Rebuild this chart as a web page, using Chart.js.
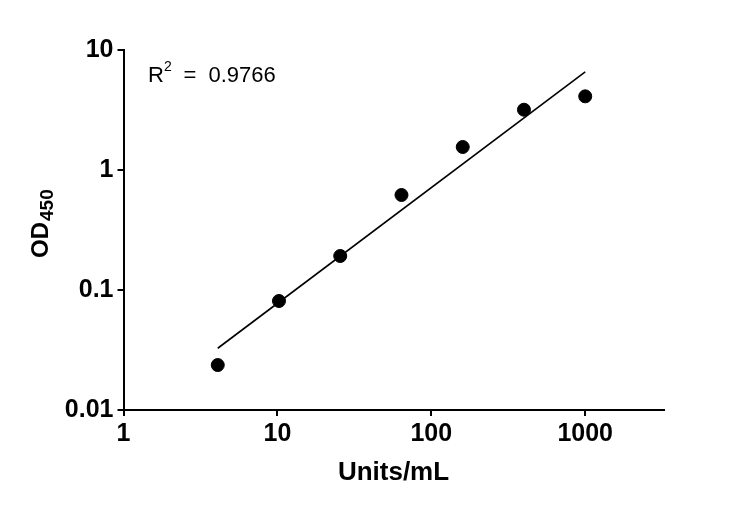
<!DOCTYPE html>
<html>
<head>
<meta charset="utf-8">
<script src="https://cdn.jsdelivr.net/npm/chart.js@4.4.1/dist/chart.umd.min.js"></script>
<style>
html,body{margin:0;padding:0;background:#fff;}
#wrap{width:750px;height:508px;position:relative;}
</style>
</head>
<body>
<div id="wrap"><canvas id="c" width="750" height="508"></canvas></div>
<script>
// Data
const concentrations = [4.096, 10.24, 25.6, 64, 160, 400, 1000];
const odValues = [0.0237, 0.081, 0.192, 0.619, 1.555, 3.18, 4.11];
const fitX = [4.096, 1000];
const fitY = [0.0327, 6.56];
const xTicks = [1, 10, 100, 1000];
const yTicks = [0.01, 0.1, 1, 10];
const xTitle = 'Units/mL';
const yTitleMain = 'OD';
const yTitleSub = '450';
const r2Label = 'R';
const r2Sup = '2';
const r2Eq = '=';
const r2Value = '0.9766';

const FONT = "'Liberation Sans', Arial, sans-serif";

const textPlugin = {
  id: 'texts',
  afterDraw(chart) {
    const ctx = chart.ctx;
    ctx.save();
    ctx.fillStyle = '#000';
    ctx.textBaseline = 'alphabetic';
    // x title
    ctx.font = 'bold 26px ' + FONT;
    ctx.textAlign = 'center';
    ctx.fillText(xTitle, 393.5, 480);
    // y title rotated with subscript
    ctx.translate(48, 0);
    ctx.rotate(-Math.PI / 2);
    ctx.textAlign = 'left';
    ctx.font = 'bold 24px ' + FONT;
    ctx.fillText(yTitleMain, -258, 0);
    const wMain = ctx.measureText(yTitleMain).width;
    ctx.font = 'bold 19px ' + FONT;
    ctx.fillText(yTitleSub, -258 + wMain + 1, 5);
    ctx.setTransform(1, 0, 0, 1, 0, 0);
    // R² label
    ctx.textAlign = 'left';
    ctx.font = '22px ' + FONT;
    ctx.fillText(r2Label, 148, 82);
    ctx.fillText(r2Eq, 183.5, 82);
    ctx.fillText(r2Value, 208.5, 82);
    ctx.font = '14px ' + FONT;
    ctx.fillText(r2Sup, 164, 71);
    ctx.restore();
  }
};

new Chart(document.getElementById('c'), {
  type: 'scatter',
  data: {
    datasets: [
      {
        label: 'Data',
        data: concentrations.map((v, i) => ({x: v, y: odValues[i]})),
        backgroundColor: '#000',
        borderColor: '#000',
        pointRadius: 6.5,
        pointHoverRadius: 6.5,
        showLine: false
      },
      {
        label: 'Fit',
        data: fitX.map((v, i) => ({x: v, y: fitY[i]})),
        borderColor: '#000',
        borderWidth: 1.6,
        pointRadius: 0,
        showLine: true,
        fill: false
      }
    ]
  },
  plugins: [textPlugin],
  options: {
    responsive: false,
    animation: false,
    devicePixelRatio: 1,
    layout: {padding: {left: 0, right: 86, top: 50, bottom: 0}},
    plugins: {legend: {display: false}, tooltip: {enabled: false}},
    scales: {
      x: {
        type: 'logarithmic',
        min: 1,
        max: 3250,
        afterBuildTicks(scale) { scale.ticks = xTicks.map(v => ({value: v})); },
        afterFit(scale) { scale.height = 98; },
        ticks: {
          color: '#000',
          font: {family: FONT, size: 25, weight: 'bold'},
          padding: 3,
          maxRotation: 0,
          autoSkip: false,
          callback: (v) => String(v)
        },
        grid: {display: true, drawOnChartArea: false, drawTicks: true, tickLength: 6, color: '#000', lineWidth: 2},
        border: {display: true, color: '#000', width: 2}
      },
      y: {
        type: 'logarithmic',
        min: 0.01,
        max: 10,
        afterBuildTicks(scale) { scale.ticks = yTicks.map(v => ({value: v})); },
        afterFit(scale) { scale.width = 123.5; },
        ticks: {
          color: '#000',
          font: {family: FONT, size: 25, weight: 'bold'},
          padding: 4,
          autoSkip: false,
          callback: (v) => String(v)
        },
        grid: {display: true, drawOnChartArea: false, drawTicks: true, tickLength: 6, color: '#000', lineWidth: 2},
        border: {display: true, color: '#000', width: 2}
      }
    }
  }
});
</script>
</body>
</html>
